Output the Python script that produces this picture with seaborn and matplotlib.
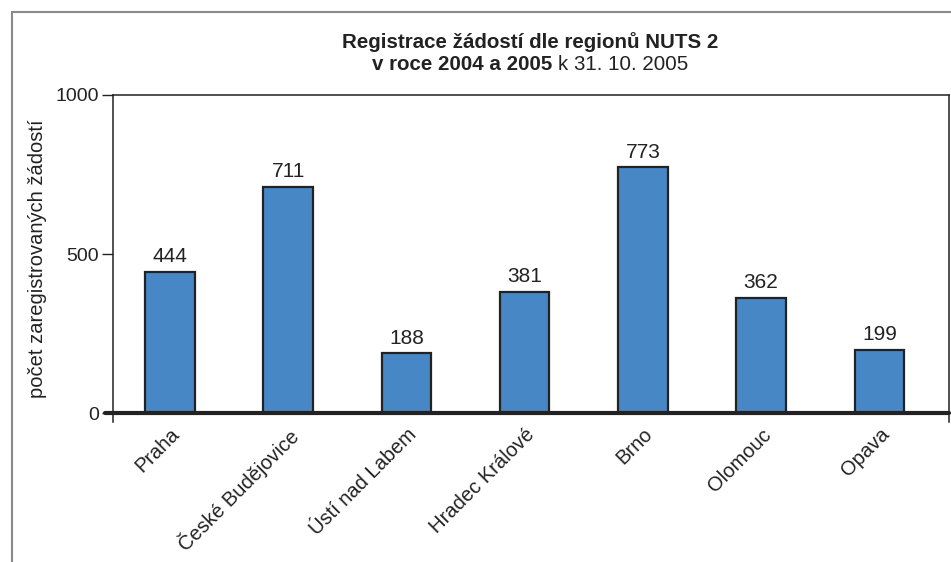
import numpy as np
import pandas as pd
import matplotlib
matplotlib.use("Agg")
import matplotlib.pyplot as plt
from matplotlib.lines import Line2D
import seaborn as sns

# data
regiony = ["Praha", "České Budějovice", "Ústí nad Labem", "Hradec Králové",
           "Brno", "Olomouc", "Opava"]
zadosti = [444, 711, 188, 381, 773, 362, 199]
yticks = [0, 500, 1000]

sns.set_style("white")
plt.rcParams['font.family'] = ['Liberation Sans', 'DejaVu Sans']

df = pd.DataFrame({"region": regiony, "pocet": zadosti})

fig = plt.figure(figsize=(9.51, 5.62), dpi=100)
ax = fig.add_axes([0.119, 0.249, 0.879, 0.582])

sns.barplot(data=df, x="region", y="pocet", color="#4887c6", saturation=1,
            edgecolor="#222222", linewidth=1.6, width=0.42, ax=ax)

ax.set_xlim(-0.48, len(regiony) - 0.41)
ax.set_ylim(-28, 1000)
ax.set_yticks(yticks)
ax.set_yticklabels([str(t) for t in yticks], fontsize=14, color="#222222")
ax.tick_params(axis="y", length=8, width=1, color="#222222", pad=2, left=True)
ax.tick_params(axis="x", length=0, pad=2)
ax.axhline(0, color="#222222", lw=3, xmin=-0.01, clip_on=False, zorder=3)

for side in ["left", "right", "top"]:
    ax.spines[side].set_visible(True)
    ax.spines[side].set_color("#222222")
    ax.spines[side].set_linewidth(1.1)
ax.spines["bottom"].set_visible(False)

ax.bar_label(ax.containers[0], labels=[str(v) for v in zadosti],
             padding=4, fontsize=15, color="#222222")

ax.set_xlabel("")
ax.set_ylabel("počet zaregistrovaných žádostí", fontsize=14.5, color="#222222",
              labelpad=6)
for lab in ax.get_xticklabels():
    lab.set_rotation(45)
    lab.set_ha("right")
    lab.set_rotation_mode("anchor")
    lab.set_fontsize(14.5)
    lab.set_color("#222222")

# title: first line bold, second line bold + regular part
fig.text(0.557, 0.915, "Registrace žádostí dle regionů NUTS 2", ha="center",
         va="baseline", fontsize=14.8, fontweight="bold", color="#222222")
fig.canvas.draw()
r = fig.canvas.get_renderer()
t1 = fig.text(0, 0.876, "v roce 2004 a 2005 ", fontsize=14.8, fontweight="bold",
              color="#222222", va="baseline")
t2 = fig.text(0, 0.876, "k 31. 10. 2005", fontsize=14.8, color="#222222",
              va="baseline")
w1 = t1.get_window_extent(r).width / fig.bbox.width
w2 = t2.get_window_extent(r).width / fig.bbox.width
x0 = 0.557 - (w1 + w2) / 2
t1.set_x(x0)
t2.set_x(x0 + w1)

# outer frame lines
fig.add_artist(Line2D([0.013, 0.013], [0.0, 0.979], transform=fig.transFigure,
                      color="#8a8a8a", lw=1.5))
fig.add_artist(Line2D([0.013, 1.0], [0.979, 0.979], transform=fig.transFigure,
                      color="#8a8a8a", lw=1.5))

fig.savefig("out.png", dpi=100)
